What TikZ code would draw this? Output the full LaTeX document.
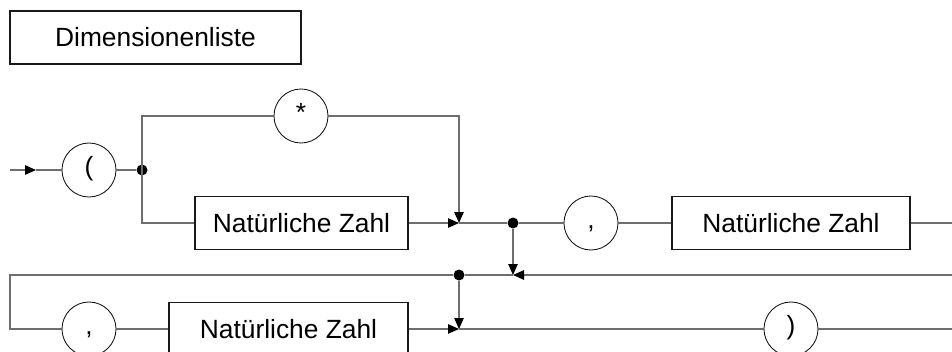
\documentclass[tikz,border=0pt]{standalone}
\usepackage{fontspec}
\setmainfont{Liberation Sans}
\usepackage{tikz}
\usetikzlibrary{arrows.meta}
\definecolor{wire}{RGB}{110,110,110}
\definecolor{edge}{RGB}{25,25,25}
\tikzset{
  rulebox/.style={rectangle, draw=edge, fill=white, line width=0.6pt,
    minimum height=1.06cm, inner sep=0pt, font=\fontsize{15}{18}\selectfont},
  termnode/.style={circle, draw=edge, fill=white, line width=0.5pt,
    minimum size=1.08cm, inner sep=0pt, text height=0.86em, text depth=0.18em,
    font=\fontsize{15}{18}\selectfont},
  junc/.style={circle, fill=black, inner sep=0pt, minimum size=0.22cm},
  line/.style={draw=wire, line width=0.7pt},
  arrow/.style={line, -{Triangle[length=0.22cm, width=0.19cm, fill=black, color=black]}}
}

\begin{document}
\begin{tikzpicture}
  \useasboundingbox (0,0) rectangle (19.04,-7.04);

  % title of the rule
  \node[rulebox, minimum width=5.82cm] (title) at (3.11,-0.75) {Dimensionenliste};

  % first row: ( then * or number
  \coordinate (start) at (0.2,-3.4);
  \coordinate (tip) at (0.72,-3.4);
  \node[termnode] (lpar) at (1.78,-3.4) {(};
  \node[junc] (d1) at (2.84,-3.4) {};
  \node[termnode] (star) at (6.02,-2.32) {*};
  \node[rulebox, minimum width=4.26cm] (nz1) at (6.03,-4.46) {Natürliche Zahl};
  \coordinate (m1) at (9.18,-4.46);

  % second part: , number
  \node[junc] (d2) at (10.26,-4.46) {};
  \node[termnode] (comma1) at (11.82,-4.46) {,};
  \node[rulebox, minimum width=4.76cm] (nz2) at (15.82,-4.46) {Natürliche Zahl};
  \coordinate (r1) at (19.04,-4.46);

  % return line
  \coordinate (r2) at (19.04,-5.5);
  \coordinate (m2) at (10.26,-5.5);
  \node[junc] (d3) at (9.18,-5.5) {};
  \coordinate (l2) at (0.2,-5.5);

  % last row: , number and )
  \node[termnode] (comma2) at (1.78,-6.58) {,};
  \node[rulebox, minimum width=4.78cm] (nz3) at (5.77,-6.58) {Natürliche Zahl};
  \coordinate (m3) at (9.18,-6.58);
  \node[termnode] (rpar) at (15.82,-6.58) {)};
  \coordinate (r3) at (19.04,-6.58);

  \draw[arrow] (start) -- (tip);
  \draw[line] (tip) -- (lpar);
  \draw[line] (lpar) -- (d1);
  \draw[line] (d1.center) |- (star);
  \draw[line] (d1.center) |- (nz1);
  \draw[arrow] (star) -| (m1);
  \draw[arrow] (nz1) -- (m1);
  \draw[line] (m1) -- (d2);
  \draw[line] (d2) -- (comma1);
  \draw[line] (comma1) -- (nz2);
  \draw[line] (nz2) -- (r1);

  \draw[arrow] (d2) -- (m2);
  \draw[arrow] (r2) -- (m2);
  \draw[line] (m2) -- (d3);
  \draw[line] (d3) -- (l2) |- (comma2);

  \draw[line] (comma2) -- (nz3);
  \draw[arrow] (nz3) -- (m3);
  \draw[arrow] (d3) -- (m3);
  \draw[line] (m3) -- (rpar);
  \draw[line] (rpar) -- (r3);
\end{tikzpicture}
\end{document}
